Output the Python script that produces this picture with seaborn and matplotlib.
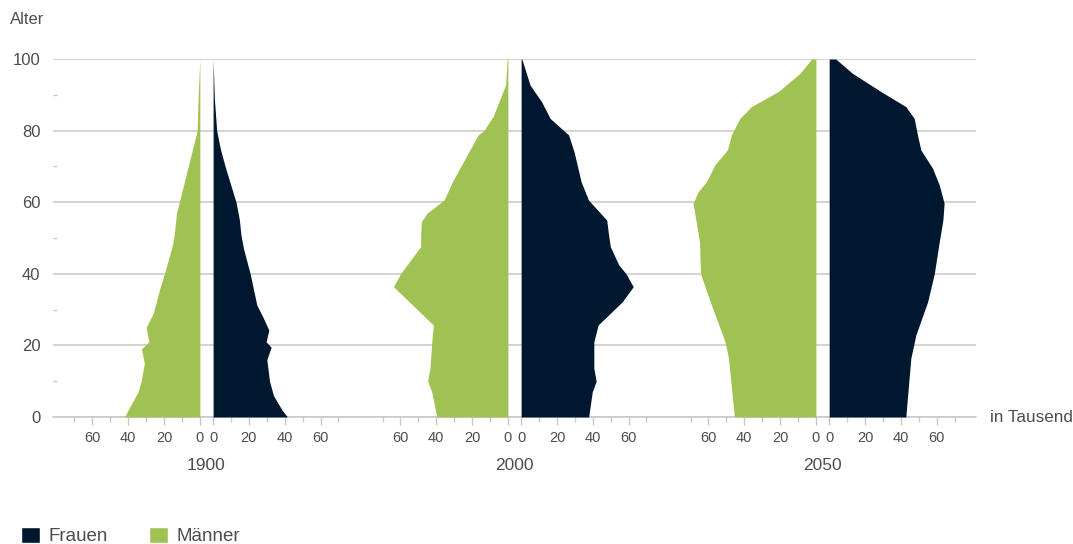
import numpy as np
import matplotlib
matplotlib.use('Agg')
import matplotlib.pyplot as plt
import matplotlib.transforms as mtransforms
from matplotlib.patches import Patch
import seaborn as sns

# data (population in thousands by age)
years = ['1900', '2000', '2050']

ages_1900_m = [0, 2, 7, 10, 15, 19, 21, 25, 29, 36, 40, 48, 51, 57, 60, 70, 80, 89, 100]
men_1900 = [42, 40, 34.5, 32.8, 31, 32.6, 28.5, 30, 26, 22.3, 19.8, 15.3, 14.3, 13, 11.5, 6.5, 1.5, 1, 0]
ages_1900_f = [0, 2, 6, 10, 16, 19.5, 21, 24.3, 27.6, 31.3, 40, 47, 51, 55, 60, 70, 75, 80, 89, 100]
women_1900 = [41.5, 38.4, 33.7, 31.5, 30, 32.4, 29.6, 31.1, 28.1, 24.4, 20.7, 17, 15.5, 14.7, 12.8, 6.7, 4, 2, 0.7, 0]

ages_2000_m = [0, 7, 10, 13.6, 21, 25.7, 36.4, 40, 47.6, 51, 54.6, 57, 60.6, 65.7, 78.8, 80, 84, 92.7, 100]
men_2000 = [39.7, 42.5, 44.8, 43.5, 42.5, 41.6, 63.9, 60, 48.7, 48.7, 48.3, 45, 35.6, 31, 16.6, 13.4, 8.2, 1.3, 0.4]
ages_2000_f = [0, 7, 10, 13.6, 21, 25.7, 32.2, 36.4, 40, 42.5, 47.6, 51, 55, 60.6, 65.7, 74, 78.8, 83.4, 88, 92.7, 100]
women_2000 = [37.7, 39.7, 41.9, 40.6, 40.6, 43, 56.5, 62.6, 58.6, 54.5, 49.8, 48.8, 47.8, 37.6, 33.5, 29.6, 26.5, 16.2, 11.5, 5, 0.4]

ages_2050_m = [0, 16.4, 21, 32.2, 40, 49, 55, 59.7, 62.9, 65.7, 70.4, 74.6, 78.8, 83.4, 86.7, 90.9, 96, 100]
men_2050 = [45.5, 48.8, 50.7, 59, 64.4, 65, 67, 68.6, 65.8, 61.1, 56.5, 49.4, 47.2, 42.5, 36, 21, 8.9, 2.4]
ages_2050_f = [0, 16.4, 22.9, 32.2, 40, 49, 55, 59.7, 64.8, 69.5, 74.6, 78.8, 83.4, 86.7, 90.9, 96, 100]
women_2050 = [42.8, 45.6, 48.4, 55, 58.7, 61.5, 63.5, 64.2, 61.5, 57.7, 51.2, 49.3, 47.5, 42.8, 28.9, 13, 3.7]

men = [(ages_1900_m, men_1900), (ages_2000_m, men_2000), (ages_2050_m, men_2050)]
women = [(ages_1900_f, women_1900), (ages_2000_f, women_2000), (ages_2050_f, women_2050)]

tick_vals = [0, 20, 40, 60]
minor_vals = [10, 30, 50, 70]

green = '#a0c253'
navy = '#00182f'
grid_col = '#c8c8c8'
text_col = '#4d4d4d'

sns.set_theme(style='white')
plt.rcParams['font.family'] = ['Liberation Sans', 'DejaVu Sans']

fig = plt.figure(figsize=(10.73, 5.44), dpi=100)
ax = fig.add_axes([53 / 1073, 1 - 417 / 544, 923 / 1073, 358 / 544])

spacing = 172   # distance between pyramid centres
gap = 3.7       # half gap between men and women

major_pos, major_lab, minor_pos = [], [], []
for i, year in enumerate(years):
    c = i * spacing
    a_m, v_m = men[i]
    a_f, v_f = women[i]
    ax.fill_betweenx(a_m, c - gap - np.array(v_m), c - gap, color=green, lw=0, zorder=3)
    ax.fill_betweenx(a_f, c + gap, c + gap + np.array(v_f), color=navy, lw=0, zorder=3)
    for v in tick_vals[::-1]:
        major_pos.append(c - gap - v)
        major_lab.append(str(v))
    for v in tick_vals:
        major_pos.append(c + gap + v)
        major_lab.append(str(v))
    for v in minor_vals:
        minor_pos += [c - gap - v, c + gap + v]

ax.set_xlim(-gap - 82, 2 * spacing + gap + 82)
ax.set_ylim(0, 100)

ax.set_xticks(major_pos)
ax.set_xticklabels(major_lab)
ax.set_xticks(minor_pos, minor=True)
ax.tick_params(axis='x', which='major', bottom=True, length=6, width=1, color=grid_col,
               labelsize=10.5, labelcolor=text_col, pad=4)
ax.tick_params(axis='x', which='minor', bottom=True, length=3.5, width=1, color=grid_col)

ax.set_yticks([0, 20, 40, 60, 80, 100])
ax.set_yticks([10, 30, 50, 70, 90], minor=True)
ax.tick_params(axis='y', which='major', left=False, length=0, labelsize=12, labelcolor=text_col, pad=9)
ax.tick_params(axis='y', which='minor', left=True, direction='in', length=3, width=1, color=grid_col)

ax.yaxis.grid(True, color=grid_col, lw=1.1)
ax.xaxis.grid(False)
ax.set_axisbelow(True)
for s in ['top', 'right', 'left']:
    ax.spines[s].set_visible(False)
ax.spines['bottom'].set_color(grid_col)
ax.spines['bottom'].set_linewidth(1.1)

# year labels under each pyramid
trans = mtransforms.blended_transform_factory(ax.transData, fig.transFigure)
for i, year in enumerate(years):
    ax.text(i * spacing, 1 - 466 / 544, year, transform=trans, ha='center', va='center',
            fontsize=12.5, color=text_col)

fig.text(10 / 1073, 1 - 19 / 544, 'Alter', ha='left', va='center', fontsize=12, color=text_col)
fig.text(990 / 1073, 1 - 417 / 544, 'in Tausend', ha='left', va='center', fontsize=12.3, color=text_col)

handles = [Patch(facecolor=navy, label='Frauen'), Patch(facecolor=green, label='Männer')]
fig.legend(handles=handles, loc='center left', bbox_to_anchor=(21 / 1073, 1 - 536 / 544),
           ncol=2, frameon=False, fontsize=13.5, handlelength=1.0, handleheight=1.0,
           handletextpad=0.45, columnspacing=2.2, borderpad=0, borderaxespad=0,
           labelcolor=text_col)

fig.savefig('out.png', dpi=100)
